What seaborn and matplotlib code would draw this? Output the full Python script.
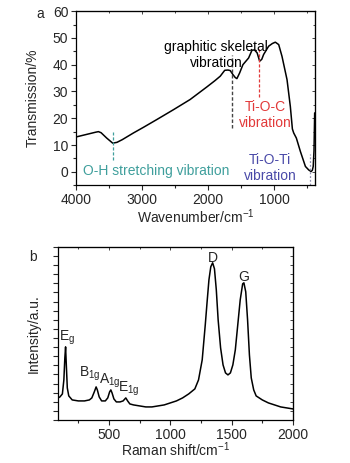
import numpy as np
import pandas as pd
import seaborn as sns
import matplotlib
matplotlib.use("Agg")
import matplotlib.pyplot as plt
from matplotlib.ticker import MultipleLocator

# FTIR spectrum (panel a)
ftir_wn = [4000, 3900, 3800, 3700, 3660, 3620, 3535, 3444, 3380, 3300, 3131, 2980,
           2778, 2525, 2273, 2020, 1900, 1818, 1750, 1700, 1667, 1626, 1591, 1566,
           1525, 1475, 1389, 1338, 1300, 1260, 1222, 1190, 1162, 1086, 1030, 985,
           934, 884, 808, 758, 727, 707, 667, 606, 530, 480, 444, 425, 412, 400, 390]
ftir_tr = [13.0, 13.6, 14.2, 14.8, 15.0, 14.6, 12.6, 10.7, 11.0, 12.0, 14.5, 16.6,
           19.5, 23.2, 27.0, 31.7, 34.0, 35.7, 37.9, 38.0, 37.8, 36.3, 35.2, 34.8,
           36.9, 40.0, 42.5, 45.4, 45.5, 44.4, 41.3, 42.0, 43.8, 46.9, 47.9, 48.4,
           47.5, 43.1, 34.4, 24.4, 16.0, 14.5, 12.6, 7.6, 2.0, 0.7, 0.1, 0.6, 2.0, 8.0, 22.0]

# Raman spectrum (panel b), arbitrary intensity
raman_shift = [85, 100, 120, 132, 140, 146, 152, 160, 172, 200, 250, 300, 340, 360,
               380, 395, 405, 420, 440, 470, 490, 505, 515, 525, 540, 560, 590, 615,
               637, 652, 670, 700, 750, 800, 850, 900, 950, 1000, 1050, 1100, 1150,
               1180, 1200, 1230, 1260, 1285, 1300, 1315, 1330, 1345, 1360, 1375, 1390,
               1410, 1430, 1450, 1470, 1490, 1510, 1530, 1550, 1570, 1590, 1600, 1615,
               1630, 1645, 1660, 1680, 1700, 1750, 1800, 1850, 1900, 1950, 2000]
raman_int = [22, 23, 26, 40, 62, 73, 55, 32, 24, 20, 19, 19, 20, 22,
             28, 33, 30, 23, 19, 19, 22, 28, 30, 27, 21, 18, 18, 19,
             22, 19, 16, 15, 14, 13, 13, 14, 15, 17, 19, 22, 26,
             29, 31, 40, 60, 95, 118, 140, 153, 157, 151, 130, 100,
             72, 55, 47, 45, 47, 55, 70, 95, 120, 136, 137, 128,
             100, 65, 42, 30, 24, 20, 17, 15, 13, 12, 11]

sns.set_style("ticks")
plt.rcParams['font.family'] = ['Liberation Sans', 'DejaVu Sans']
plt.rcParams['mathtext.fontset'] = 'custom'
plt.rcParams['mathtext.rm'] = 'Liberation Sans'
plt.rcParams['mathtext.it'] = 'Liberation Sans'

fig = plt.figure(figsize=(3.5, 4.63), dpi=100)
ax1 = fig.add_axes([0.217, 0.600, 0.683, 0.376])
ax2 = fig.add_axes([0.166, 0.093, 0.671, 0.374])

df_a = pd.DataFrame({'wn': ftir_wn, 'tr': ftir_tr})
df_b = pd.DataFrame({'shift': raman_shift, 'inten': raman_int})

sns.lineplot(data=df_a, x='wn', y='tr', ax=ax1, color='black', lw=1.1, estimator=None)
sns.lineplot(data=df_b, x='shift', y='inten', ax=ax2, color='black', lw=1.1, estimator=None)

# panel a
ax1.set_xlim(4000, 385)
ax1.set_ylim(-5, 60)
ax1.xaxis.set_major_locator(MultipleLocator(1000))
ax1.xaxis.set_minor_locator(MultipleLocator(500))
ax1.yaxis.set_major_locator(MultipleLocator(10))
ax1.yaxis.set_minor_locator(MultipleLocator(5))
ax1.set_xlabel('Wavenumber/cm$^{-1}$', fontsize=10)
ax1.set_ylabel('Transmission/%', fontsize=10)
ax1.xaxis.set_label_coords(0.5, -0.128)
ax1.yaxis.set_label_coords(-0.15, 0.5)

teal = '#3f9f9c'
red = '#e23a3a'
blue = '#4a4aa8'
ax1.plot([1636, 1636], [16.4, 43.6], ls=(0, (2.5, 1.5)), color='#444444', lw=1.0)
ax1.plot([1227, 1227], [28, 46.6], ls=(0, (2.5, 1.5)), color=red, lw=0.9)
ax1.plot([3440, 3440], [4.5, 15], ls=(0, (2.5, 1.5)), color=teal, lw=0.9)
ax1.plot([455, 455], [-5, 6.7], ls=(0, (1.5, 1.5)), color='#9090b0', lw=0.9)
ax1.text(1880, 43.5, 'graphitic skeletal\nvibration', ha='center', va='center',
         fontsize=10, color='black', linespacing=1.15)
ax1.text(1136, 21.3, 'Ti-O-C\nvibration', ha='center', va='center',
         fontsize=10, color=red, linespacing=1.15)
ax1.text(2788, 0.4, 'O-H stretching vibration', ha='center', va='center',
         fontsize=10, color=teal)
ax1.text(1065, 1.5, 'Ti-O-Ti\nvibration', ha='center', va='center',
         fontsize=10, color=blue, linespacing=1.15)
fig.text(40 / 350, 1 - 14 / 463, 'a', ha='center', va='center', fontsize=10)

# panel b
ax2.set_xlim(85, 2000)
ax2.set_ylim(0, 173)
ax2.xaxis.set_major_locator(MultipleLocator(500))
ax2.xaxis.set_minor_locator(MultipleLocator(250))
ax2.yaxis.set_major_locator(MultipleLocator(9.1))
ax2.set_yticklabels([])
ax2.set_xlabel('Raman shift/cm$^{-1}$', fontsize=10)
ax2.set_ylabel('Intensity/a.u.', fontsize=10)
ax2.xaxis.set_label_coords(0.5, -0.12)
ax2.yaxis.set_label_coords(-0.072, 0.5)

ax2.text(1345, 162, 'D', ha='center', va='center', fontsize=10)
ax2.text(1600, 143, 'G', ha='center', va='center', fontsize=10)
ax2.text(160, 82, r'E$_{\mathregular{g}}$', ha='center', va='center', fontsize=10)
ax2.text(340, 46, r'B$_{\mathregular{1g}}$', ha='center', va='center', fontsize=10)
ax2.text(510, 39, r'A$_{\mathregular{1g}}$', ha='center', va='center', fontsize=10)
ax2.text(665, 31, r'E$_{\mathregular{1g}}$', ha='center', va='center', fontsize=10)
fig.text(33 / 350, 1 - 257 / 463, 'b', ha='center', va='center', fontsize=10)

for ax in (ax1, ax2):
    for s in ax.spines.values():
        s.set_visible(True)
        s.set_linewidth(0.9)
        s.set_color('black')
    ax.tick_params(which='both', direction='out', labelsize=10, width=0.8,
                   top=False, right=False, pad=2)
    ax.tick_params(which='major', length=3.5)
    ax.tick_params(which='minor', length=2)
    ax.grid(False)
    # mirrored inward ticks on top/right
    sec_x = ax.secondary_xaxis('top')
    sec_x.xaxis.set_major_locator(ax.xaxis.get_major_locator())
    sec_x.xaxis.set_minor_locator(ax.xaxis.get_minor_locator())
    sec_x.tick_params(which='both', direction='in', labeltop=False, width=0.6)
    sec_x.tick_params(which='major', length=2.5)
    sec_x.tick_params(which='minor', length=1.5)
    sec_y = ax.secondary_yaxis('right')
    sec_y.yaxis.set_major_locator(ax.yaxis.get_major_locator())
    sec_y.yaxis.set_minor_locator(ax.yaxis.get_minor_locator())
    sec_y.tick_params(which='both', direction='in', labelright=False, width=0.6)
    sec_y.tick_params(which='major', length=2.5)
    sec_y.tick_params(which='minor', length=1.5)

fig.savefig('out.png', dpi=100)
